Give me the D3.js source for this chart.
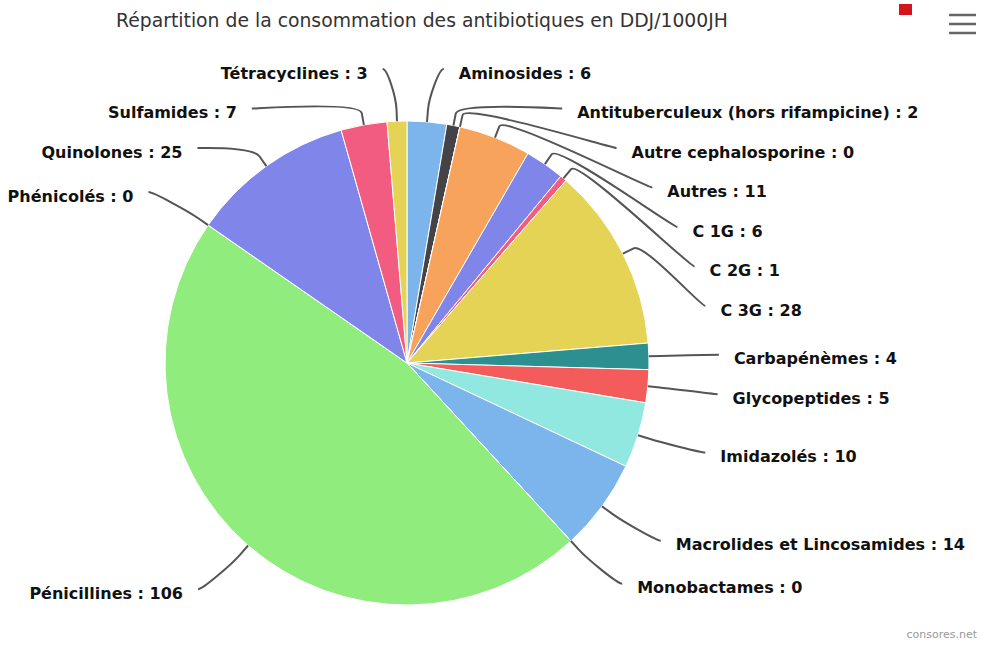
<!DOCTYPE html>
<html>
<head>
<meta charset="utf-8">
<script src="https://cdn.jsdelivr.net/npm/d3@7"></script>
<style>
  body { margin: 0; background: #fff; }
  svg { display: block; }
</style>
</head>
<body>
<div id="chart"></div>
<script>
// données (DDJ/1000JH)
const categories = [
  "Aminosides", "Antituberculeux (hors rifampicine)", "Autre cephalosporine", "Autres",
  "C 1G", "C 2G", "C 3G", "Carbapénèmes", "Glycopeptides", "Imidazolés",
  "Macrolides et Lincosamides", "Monobactames", "Pénicillines", "Phénicolés",
  "Quinolones", "Sulfamides", "Tétracyclines"
];
const values = [6, 2, 0, 11, 6, 1, 28, 4, 5, 10, 14, 0, 106, 0, 25, 7, 3];
const palette = ["#7cb5ec", "#434348", "#90ed7d", "#f7a35c", "#8085e9",
                 "#f15c80", "#e4d354", "#2b908f", "#f45b5b", "#91e8e1"];
const titleText = "Répartition de la consommation des antibiotiques en DDJ/1000JH";
const creditText = "consores.net";

const width = 983, height = 646;
const cx = 407, cy = 363, radius = 242;
const naturalR = 300;   // position "naturelle" des étiquettes
const labelR = 292;     // cercle sur lequel on aligne les étiquettes
const lineGap = 12, textGap = 15, slotH = 39.5, topLimit = 69;

const svg = d3.select('#chart').append('svg')
  .attr('width', width)
  .attr('height', height);

// titre
svg.append('text')
  .attr('x', 422)
  .attr('y', 27)
  .attr('text-anchor', 'middle')
  .style('font-family', '"DejaVu Sans", sans-serif')
  .style('font-size', '18.8px')
  .style('fill', '#333')
  .text(titleText);

// petit bouton rouge + menu
svg.append('rect')
  .attr('x', 899).attr('y', 4).attr('width', 13).attr('height', 11)
  .attr('fill', '#d4141a');
for (let i = 0; i < 3; i++) {
  svg.append('line')
    .attr('x1', 949).attr('x2', 976)
    .attr('y1', 15 + i * 9).attr('y2', 15 + i * 9)
    .attr('stroke', '#666').attr('stroke-width', 2.5);
}

const color = d3.scaleOrdinal().domain(d3.range(values.length)).range(palette);

const pie = d3.pie().sort(null).value(d => d);
const arcs = pie(values);
const arc = d3.arc().innerRadius(0).outerRadius(radius);

const g = svg.append('g').attr('transform', `translate(${cx},${cy})`);

g.selectAll('path.slice')
  .data(arcs)
  .enter()
  .append('path')
  .attr('class', 'slice')
  .attr('d', arc)
  .attr('fill', (d, i) => color(i))
  .attr('stroke', '#fff')
  .attr('stroke-width', 1)
  .attr('stroke-linejoin', 'round');

// position des étiquettes, façon Highcharts
const labels = arcs.map((d, i) => {
  const mid = (d.startAngle + d.endAngle) / 2;
  return {
    i: i,
    mid: mid,
    left: Math.sin(mid) < 0,
    natY: cy - Math.cos(mid) * naturalR,
    natDx: Math.abs(Math.sin(mid)) * naturalR
  };
});

function distribute(list) {
  list.sort((a, b) => a.natY - b.natY);
  let prev = -Infinity;
  list.forEach((l, k) => {
    let y = Math.max(l.natY, prev + slotH);
    if (k === 0) y = Math.max(y, topLimit);
    l.y = y;
    prev = y;
  });
}
distribute(labels.filter(l => !l.left));
distribute(labels.filter(l => l.left));

labels.forEach(l => {
  const dy = l.y - cy;
  const dx = Math.sqrt(Math.max(0, labelR * labelR - dy * dy));
  const off = Math.max(dx, l.natDx) + lineGap;
  const s = l.left ? -1 : 1;
  l.x = cx + s * off;
  l.tx = l.x + s * textGap;
  // connecteur
  const tx = cx + Math.sin(l.mid) * radius, ty = cy - Math.cos(l.mid) * radius;
  const bx = cx + Math.sin(l.mid) * (radius + 12), by = cy - Math.cos(l.mid) * (radius + 12);
  l.path = `M${l.x},${l.y}C${l.x - s * 5},${l.y} ${2 * bx - tx},${2 * by - ty} ${bx},${by}L${tx},${ty}`;
});

svg.selectAll('path.connector')
  .data(labels)
  .enter()
  .append('path')
  .attr('class', 'connector')
  .attr('d', d => d.path)
  .attr('fill', 'none')
  .attr('stroke', '#555')
  .attr('stroke-width', 2);

svg.selectAll('text.lbl')
  .data(labels)
  .enter()
  .append('text')
  .attr('class', 'lbl')
  .attr('x', d => d.tx)
  .attr('y', d => d.y + 4)
  .attr('dy', '0.35em')
  .attr('text-anchor', d => d.left ? 'end' : 'start')
  .style('font-family', '"DejaVu Sans", sans-serif')
  .style('font-weight', 'bold')
  .style('font-size', '16px')
  .style('fill', '#111')
  .text(d => `${categories[d.i]} : ${values[d.i]}`);

// crédits
svg.append('text')
  .attr('x', 977)
  .attr('y', 638)
  .attr('text-anchor', 'end')
  .style('font-family', '"DejaVu Sans", sans-serif')
  .style('font-size', '11px')
  .style('fill', '#999')
  .text(creditText);
</script>
</body>
</html>
